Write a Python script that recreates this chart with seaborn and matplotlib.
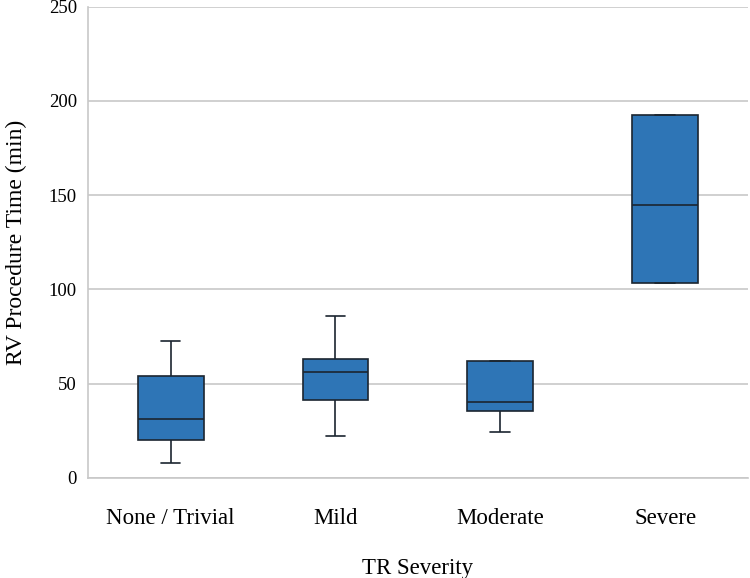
import pandas as pd
import seaborn as sns
import matplotlib.pyplot as plt

# five-number summaries: [whisker low, Q1, median, Q3, whisker high]
groups = ["None / Trivial", "Mild", "Moderate", "Severe"]
none_trivial = [7.8, 19.8, 31.2, 53.8, 72.4]
mild = [22.1, 41.2, 56.3, 63.0, 86.0]
moderate = [24.4, 35.2, 40.0, 61.8, 61.8]
severe = [103.2, 103.2, 144.6, 192.7, 192.7]
y_ticks = [0, 50, 100, 150, 200, 250]

rows = []
for g, vals in zip(groups, [none_trivial, mild, moderate, severe]):
    for v in vals:
        rows.append({"TR Severity": g, "RV Procedure Time (min)": v})
df = pd.DataFrame(rows)

sns.set_theme(style="whitegrid")
plt.rcParams["font.family"] = ["Liberation Serif", "DejaVu Serif"]

fig = plt.figure(figsize=(7.5, 5.78), dpi=100)
ax = fig.add_axes([0.1175, 0.1735, 0.8795, 0.815])

sns.boxplot(
    data=df,
    x="TR Severity",
    y="RV Procedure Time (min)",
    order=groups,
    color="#2E75B6",
    saturation=1,
    width=0.4,
    whis=(0, 100),
    linecolor="#1b2530",
    linewidth=1.2,
    capwidths=0.12,
    ax=ax,
)

ax.set_ylim(0, 250)
ax.set_yticks(y_ticks)
ax.set_xlim(-0.5, 3.5)
ax.grid(axis="y", color="#c8c8c8", linewidth=1.2)
ax.grid(axis="x", visible=False)
ax.set_axisbelow(True)
for s in ["top", "right"]:
    ax.spines[s].set_visible(False)
for s in ["left", "bottom"]:
    ax.spines[s].set_color("#c8c8c8")
    ax.spines[s].set_linewidth(1.2)

ax.tick_params(axis="x", length=0, pad=21.5, labelsize=16.5, colors="black")
ax.tick_params(axis="y", length=0, pad=8, labelsize=13.5, colors="black")
ax.set_xlabel("TR Severity", fontsize=16.5, labelpad=21, color="black")
ax.set_ylabel("RV Procedure Time (min)", fontsize=17, labelpad=16, color="black")

fig.savefig("out.png", dpi=100)
